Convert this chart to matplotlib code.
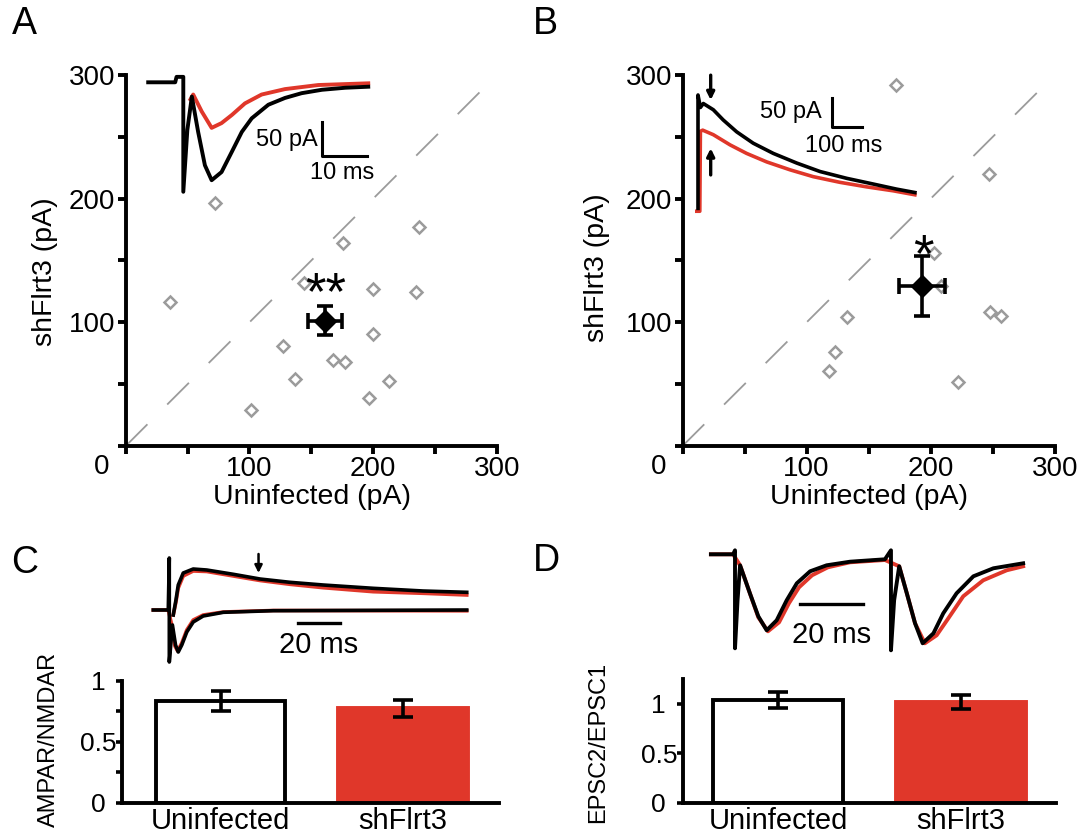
import numpy as np
import matplotlib.pyplot as plt

plt.rcParams['font.family'] = ['Liberation Sans', 'DejaVu Sans']

W, H = 1086, 836
RED = '#e0372a'
GREY = '#9b9b9b'

# scatter data (pA)
a_uninf = [72.5, 237.1, 176.0, 144.1, 199.6, 234.3, 36.1, 199.6, 127.3, 167.6, 176.9, 137.1, 212.4, 196.8, 101.3]
a_sh = [196.7, 176.7, 164.3, 132.0, 126.6, 124.7, 116.4, 90.2, 80.8, 69.5, 67.9, 54.4, 52.5, 38.8, 29.4]
a_mean = [160.9, 101.3]
a_sem = [13.7, 11.7]

b_uninf = [172.2, 247.0, 202.3, 208.5, 132.6, 247.6, 256.5, 122.8, 118.1, 222.4]
b_sh = [292.3, 219.8, 156.3, 129.3, 104.0, 108.0, 105.3, 76.2, 60.6, 52.0]
b_mean = [193.1, 129.3]
b_sem = [18.4, 24.0]

# bar data
groups = ['Uninfected', 'shFlrt3']
c_vals = [0.835, 0.775]
c_err = [0.085, 0.07]
d_vals = [1.04, 1.02]
d_err = [0.08, 0.075]

# example traces (ms, pA)
a_t_k = [-7.8, -1.8, -1.5, 0, 0, 0.9, 1.9, 3.3, 4.8, 6.3, 8.5, 10.8, 13.0, 15.2, 18.9, 22.6, 26.3, 30.8, 36.0, 41.1]
a_i_k = [0, 0, 8, 8, -161, -70, -21, -73, -122, -144, -132, -102, -73, -53, -33, -23, -16, -11, -8, -6.5]
a_t_r = [1.6, 2.2, 4.1, 6.3, 8.5, 10.8, 13.7, 17.4, 22.6, 30.0, 41.1]
a_i_r = [-25, -18, -43, -67, -60, -48, -31, -18, -10, -4, -1.5]

b_t_k = [0, 0, 8, 17.7, 51, 84, 129, 184, 251, 329, 407, 496, 584, 662, 723]
b_i_k = [-6, 194, 172, 179, 168, 150, 129, 109, 91, 74, 59, 47, 37, 28, 22]
b_t_r = [-4, 6, 8, 15.7, 51, 107, 162, 229, 307, 384, 473, 562, 651, 723]
b_i_r = [-11, -11, 130, 132, 124, 106, 91, 76, 62, 50, 40, 32, 25, 18]

c_lo_t_k = [-7.7, -0.5, 0, 0, 1.5, 3.0, 4.3, 6.0, 8.4, 11.5, 16.3, 26, 50, 143]
c_lo_i_k = [0, 0, 52, -52, -15, -35, -42, -35, -22, -12, -6, -2.3, -0.7, 0]
c_lo_t_r = [-7.7, -0.5, 1.2, 2.7, 4.0, 6.0, 8.4, 11.5, 16.3, 26, 50, 143]
c_lo_i_r = [0, 0, -15, -36, -41, -33, -20, -10, -5, -2, -0.5, -0.8]
c_up_t_k = [1.9, 3.2, 4.3, 6.7, 11.5, 18, 30.8, 43.6, 58, 74, 98, 122, 143]
c_up_i_k = [-5, 10, 25, 37, 41, 40, 35.7, 31, 27.7, 25, 21.7, 19, 17.7]
c_up_t_r = [1.9, 3.2, 4.3, 6.7, 11.5, 18, 30.8, 43.6, 58, 74, 98, 122, 143]
c_up_i_r = [-5, 8, 22, 34, 39, 38.5, 34, 29.5, 25.7, 22.3, 18.3, 16.7, 15]

d_t_k = [-7.6, -0.6, 0, 0, 0.8, 1.6, 4.7, 7.35, 10, 13.15, 16.3, 19.5, 23.7, 28.9, 36.3, 47.3,
         49.2, 49.2, 50.2, 51.8, 54.2, 56.8, 59.2, 62.6, 65.7, 69.9, 75.2, 81.5, 90.9]
d_i_k = [0, 0, 4, -94, -46, -11, -39, -62, -76, -66, -46, -29, -17, -11, -7.4, -5,
         4, -96, -46, -12, -39, -69, -89, -79, -59, -39, -22, -14, -9]
d_t_r = [-7.6, -0.6, 1.6, 4.7, 7.35, 10.4, 13.9, 17, 20.2, 24.3, 29.3, 36.3, 47.3,
         51.8, 54.2, 56.8, 59.9, 63.6, 67.3, 72, 78.3, 85.7, 90.9]
d_i_r = [0, 0, -11, -39, -63, -77, -68, -49, -33, -21, -13, -8, -5.7,
         -12, -39, -69, -89, -81, -64, -42, -26, -16, -12]

fig = plt.figure(figsize=(W / 100, H / 100), dpi=100)


def box(left, top, right, bottom):
    return fig.add_axes([left / W, 1 - bottom / H, (right - left) / W, (bottom - top) / H])


def inset(x0, y0, sx, sy, xlim, ylim):
    ax = box(x0 + sx * xlim[0], y0 - sy * ylim[1], x0 + sx * xlim[1], y0 - sy * ylim[0])
    ax.set_xlim(xlim)
    ax.set_ylim(ylim)
    ax.axis('off')
    return ax


def label(x, y, s, **kw):
    fig.text(x / W, 1 - y / H, s, **kw)


def arrow(ax, x, y0, y1, lw):
    ax.annotate('', xy=(x, y1), xytext=(x, y0), annotation_clip=False,
                arrowprops=dict(arrowstyle='-|>', color='k', lw=lw, mutation_scale=11,
                                shrinkA=0, shrinkB=0))


def scatter_panel(rect, xs, ys, mean, sem, stars, star_xy):
    ax = box(*rect)
    ax.plot([0, 300], [0, 300], color=GREY, lw=1.3, ls=(0, (17, 15.5)))
    ax.plot(xs, ys, 'D', ms=6.5, mfc='none', mec=GREY, mew=1.8, clip_on=False)
    ax.errorbar(mean[0], mean[1], xerr=sem[0], yerr=sem[1], fmt='D', color='k',
                ms=11.5, elinewidth=2.6, capsize=5.5, capthick=2.6)
    ax.text(star_xy[0], star_xy[1], stars, ha='center', va='baseline', fontsize=38)
    ax.set_xlim(0, 300)
    ax.set_ylim(0, 300)
    for s in ['top', 'right']:
        ax.spines[s].set_visible(False)
    for s in ['left', 'bottom']:
        ax.spines[s].set_linewidth(2.8)
    ticks = np.arange(0, 301, 50)
    labs = [str(t) if t in (100, 200, 300) else '' for t in ticks]
    ax.set_xticks(ticks, labs)
    ax.set_yticks(ticks, labs)
    ax.tick_params(direction='out', length=5.5, width=2.8, labelsize=20, pad=2)
    ax.patch.set_alpha(0)
    return ax


def bar_panel(rect, vals, err, xlim, ylim, yticks, ytl, minor, pad):
    ax = box(*rect)
    x = np.arange(len(vals))
    ax.bar(x, vals, width=0.71, color=['white', RED], edgecolor=['k', RED], linewidth=2.8)
    ax.errorbar(x, vals, yerr=err, fmt='none', ecolor='k', elinewidth=2.6, capsize=7, capthick=2.6)
    ax.set_xlim(xlim)
    ax.set_ylim(ylim)
    for s in ['top', 'right']:
        ax.spines[s].set_visible(False)
    for s in ['left', 'bottom']:
        ax.spines[s].set_linewidth(2.8)
    ax.set_xticks(x, groups)
    ax.tick_params(axis='x', length=0, labelsize=21, pad=3)
    ax.set_yticks(yticks, ytl)
    ax.set_yticks(minor, minor=True)
    ax.tick_params(axis='y', which='both', direction='out', length=4.3, width=2.6, labelsize=19, pad=pad)
    for lb in ax.get_yticklabels():
        lb.set_ha('center')
    return ax


# panel A
scatter_panel((125.7, 75, 496.9, 446), a_uninf, a_sh, a_mean, a_sem, '**', (161.5, 111))
ax = inset(183.3, 82.3, 4.5, 0.68, (-10, 44), (-170, 14))
ax.plot(a_t_r, a_i_r, color=RED, lw=2.8, solid_joinstyle='round')
ax.plot(a_t_k, a_i_k, color='k', lw=2.8, solid_joinstyle='round')
ax.plot([30.8, 30.8, 40.8], [-57.9, -107.9, -107.9], color='k', lw=2.2)
ax.text(29.9, -84.9, '50 pA', ha='right', va='center', fontsize=17)
ax.text(35.2, -133.8, '10 ms', ha='center', va='center', fontsize=17)

# panel B
scatter_panel((682.5, 75, 1054.8, 446), b_uninf, b_sh, b_mean, b_sem, '*', (193.7, 141.6))
ax = inset(698, 205, 0.3, 0.567, (-15, 740), (-15, 240))
ax.plot(b_t_r, b_i_r, color=RED, lw=2.6, solid_joinstyle='round')
ax.plot(b_t_k, b_i_k, color='k', lw=2.6, solid_joinstyle='round')
ax.plot([445.7, 445.7, 545.7], [188.2, 138.1, 138.1], color='k', lw=2.2)
ax.text(412.3, 164.6, '50 pA', ha='right', va='center', fontsize=17)
ax.text(484.3, 104, '100 ms', ha='center', va='center', fontsize=17)
arrow(ax, 42.3, 229, 185, 2.4)
arrow(ax, 42.3, 53, 100, 2.4)

# panel C
ax = inset(169.3, 610, 2.08, 1.0, (-9, 146), (-55, 56))
ax.plot(c_lo_t_r, c_lo_i_r, color=RED, lw=2.6)
ax.plot(c_up_t_r, c_up_i_r, color=RED, lw=2.6)
ax.plot(c_lo_t_k, c_lo_i_k, color='k', lw=2.6, solid_joinstyle='round')
ax.plot(c_up_t_k, c_up_i_k, color='k', lw=2.6, solid_joinstyle='round')
ax.plot([62, 82], [-13.3, -13.3], color='k', lw=2.4)
ax.text(71.9, -35, '20 ms', ha='center', va='center', fontsize=21)
arrow(ax, 42.9, 56, 37, 1.8)
bar_panel((121.9, 681, 498.6, 802.7), c_vals, c_err, (-0.542, 1.525), (0, 1),
          [0, 0.5, 1], ['0', '0.5', '1'], [0.25, 0.75], 12.5)

# panel D
ax = inset(735, 554.3, 3.17, 1.0, (-9, 94), (-100, 8))
ax.plot(d_t_r, d_i_r, color=RED, lw=2.8, solid_joinstyle='round')
ax.plot(d_t_k, d_i_k, color='k', lw=2.8, solid_joinstyle='round')
ax.plot([20.5, 40.5], [-49.7, -49.7], color='k', lw=2.4)
ax.text(30.5, -80.7, '20 ms', ha='center', va='center', fontsize=21)
bar_panel((683.2, 679.3, 1055.5, 802.7), d_vals, d_err, (-0.52, 1.516), (0, 1.25),
          [0, 0.5, 1], ['0', '0.5', '1'], [], 13.3)

# axis labels and panel letters
for x0 in (125.7, 682.5):
    label(x0 - 24, 466.7, '0', ha='center', va='center', fontsize=20)
    label(x0 + 186, 504.4, 'Uninfected (pA)', ha='center', va='baseline', fontsize=20.5)
label(45, 272, 'shFlrt3 (pA)', ha='center', va='center', rotation=90, fontsize=20.5)
label(597, 268, 'shFlrt3 (pA)', ha='center', va='center', rotation=90, fontsize=20.5)
label(48.5, 739, 'AMPAR/NMDAR', ha='center', va='center', rotation=90, fontsize=17)
label(598, 742.5, 'EPSC2/EPSC1', ha='center', va='center', rotation=90, fontsize=17)
for s, x, y in [('A', 24, 24), ('B', 545, 24), ('C', 25, 563), ('D', 546, 561)]:
    label(x, y, s, ha='center', va='center', fontsize=27)

fig.savefig('out.png', dpi=100)
